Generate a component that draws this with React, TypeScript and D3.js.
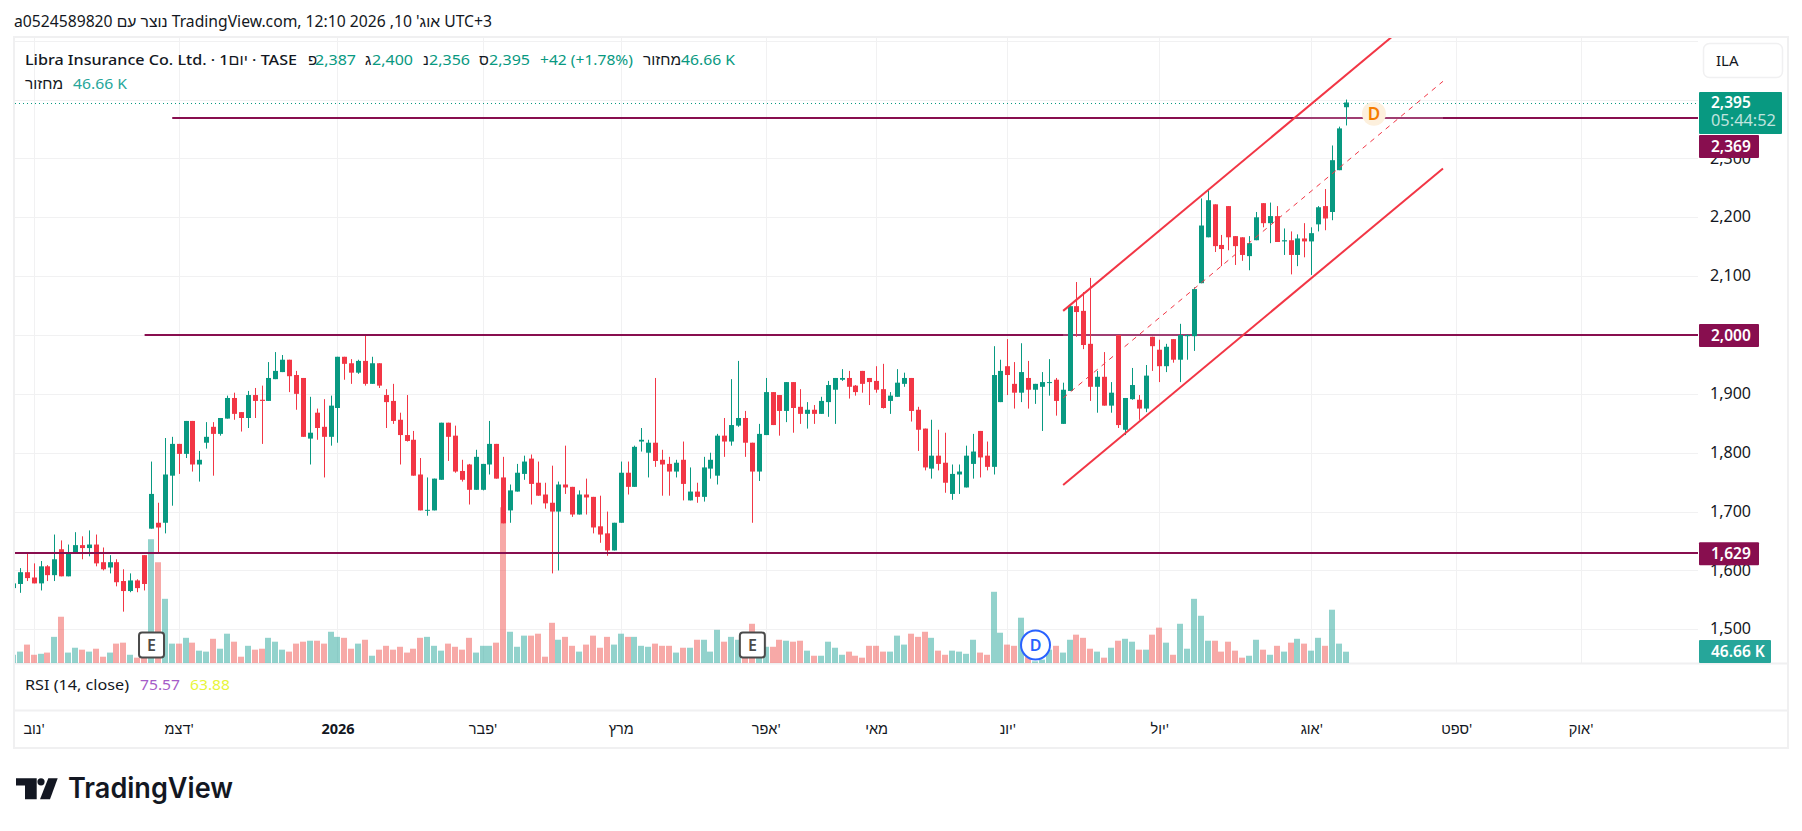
// Libra Insurance daily candles with volume, channel and horizontal levels
import React, { useEffect } from 'react';
import * as d3 from 'd3';

const opens = [1570,
  1577,1597,1588,1578,1607,1592,1636,1590,1629,1643,1638,1644,1614,1605,1614,1582,1565,1583,1626,
  1671,1681,1681,1761,1815,1798,1854,1780,1817,1844,
  1832,1858,1893,1869,1859,1898,1890,1888,1925,1937,
  1958,1932,1927,1824,1868,1844,1827,1876,1963,1952,
  1936,1956,1917,1952,1898,1888,1856,1830,1822,1763,
  1702,1702,1754,1851,1829,1769,1780,1737,1737,1780,
  1815,1758,1702,1734,1764,1790,1749,1729,1715,1700,
  1746,1742,1695,1729,1725,1675,1663,1634,1681,1766,
  1742,1819,1800,1817,1788,1781,1768,1788,1719,1734,
  1725,1773,1761,1829,1819,1846,1859,1817,1768,1830,
  1903,1898,1871,1920,1878,1866,1873,1866,1886,1907,
  1924,1927,1914,1939,1927,1922,1908,1888,1895,1917,
  1927,1873,1841,1773,1795,1783,1730,1763,1741,1781,
  1837,1795,1776,1886,1947,1917,1902,1927,1907,1912,
  1919,1924,1849,1905,2049,2041,1985,1912,1929,1880,
  2000,1839,1891,1890,1875,1997,1975,1947,1993,1958,
  1998,1998,2088,2166,2222,2153,2219,2168,2166,2134,
  2161,2224,2190,2202,2159,2161,2136,2164,2159,2188,
  2219,2209,2280,2387];

const closes = [1578,
  1597,1587,1578,1607,1592,1619,1590,1631,1643,1638,1644,1612,1602,1614,1580,1565,1583,1570,1577,
  1730,1673,1763,1815,1798,1854,1780,1788,1827,1832,
  1859,1893,1866,1859,1898,1888,1888,1927,1939,1958,
  1930,1900,1827,1834,1842,1827,1880,1963,1951,1936,
  1956,1917,1952,1914,1886,1854,1830,1820,1761,1702,
  1703,1756,1851,1827,1768,1754,1737,1793,1781,1815,
  1756,1680,1736,1766,1785,1747,1727,1714,1700,1746,
  1741,1695,1729,1724,1673,1661,1634,1681,1766,1742,
  1810,1822,1817,1786,1780,1768,1783,1747,1734,1725,
  1775,1788,1829,1819,1847,1859,1817,1768,1832,1903,
  1847,1871,1920,1876,1866,1873,1866,1888,1915,1927,
  1927,1912,1903,1917,1920,1907,1876,1897,1919,1927,
  1871,1839,1775,1795,1781,1749,1764,1768,1795,1802,
  1792,1776,1932,1939,1932,1902,1937,1907,1917,1920,
  1920,1888,1907,2049,2039,1983,1912,1929,1880,1902,
  1847,1893,1915,1875,1931,1981,1947,1980,1958,2000,
  2000,2078,2186,2229,2151,2146,2166,2151,2136,2156,
  2200,2190,2202,2158,2161,2136,2164,2159,2173,2217,
  2198,2297,2351,2395];

const highs = [1578,
  1604,1629,1612,1616,1609,1661,1651,1644,1665,1658,1668,1661,1639,1626,1619,1602,1595,1585,1626,
  1785,1715,1825,1827,1815,1854,1854,1803,1852,1852,
  1859,1897,1902,1869,1905,1910,1914,1954,1971,1966,
  1958,1939,1927,1895,1875,1891,1897,1963,1963,1959,
  1958,2000,1963,1952,1908,1917,1868,1898,1837,1791,
  1758,1756,1851,1851,1846,1788,1781,1805,1781,1854,
  1815,1793,1746,1781,1795,1797,1785,1749,1778,1751,
  1812,1742,1736,1756,1725,1727,1700,1681,1785,1785,
  1812,1842,1822,1927,1805,1793,1788,1819,1775,1749,
  1793,1800,1832,1859,1925,1956,1871,1817,1849,1927,
  1903,1898,1920,1920,1908,1886,1881,1895,1922,1927,
  1942,1939,1915,1939,1927,1947,1951,1903,1942,1936,
  1927,1878,1841,1856,1839,1834,1780,1780,1812,1832,
  1837,1819,1981,1958,1993,1954,1986,1956,1917,1937,
  1959,1927,1919,2049,2090,2073,2097,1939,1971,1920,
  2000,1893,1944,1898,1949,1997,1992,1985,1993,2019,
  2001,2081,2232,2246,2222,2170,2219,2168,2166,2168,
  2209,2224,2225,2219,2181,2176,2171,2190,2183,2219,
  2248,2322,2354,2400];

const lows = [1570,
  1562,1582,1578,1566,1582,1582,1590,1590,1629,1619,1624,1607,1600,1595,1573,1530,1563,1563,1566,
  1671,1630,1663,1710,1764,1791,1768,1751,1807,1761,
  1829,1858,1856,1836,1842,1859,1815,1888,1925,1937,
  1903,1873,1827,1780,1822,1758,1812,1817,1924,1917,
  1934,1914,1917,1910,1842,1849,1780,1819,1761,1702,
  1693,1702,1754,1786,1766,1751,1712,1737,1736,1763,
  1756,1680,1681,1734,1754,1712,1727,1705,1595,1600,
  1730,1691,1695,1695,1663,1647,1625,1634,1681,1729,
  1742,1802,1758,1776,1727,1727,1758,1719,1719,1715,
  1717,1756,1746,1793,1812,1844,1793,1681,1752,1830,
  1847,1829,1852,1834,1849,1841,1849,1866,1861,1849,
  1922,1892,1897,1902,1881,1902,1875,1866,1895,1912,
  1853,1803,1770,1756,1770,1732,1720,1730,1741,1756,
  1758,1770,1763,1886,1898,1875,1886,1875,1883,1837,
  1897,1863,1849,1905,1997,1976,1888,1868,1880,1868,
  1842,1830,1890,1856,1869,1939,1920,1937,1953,1920,
  1958,1973,2088,2166,2141,2117,2144,2119,2126,2110,
  2161,2183,2156,2158,2136,2103,2117,2132,2102,2176,
  2178,2195,2280,2356];

// volume in thousands
const volumes = [
  34,47,76,34,38,43,108,191,43,63,
  55,47,59,26,43,80,84,34,22,25,
  511,416,265,80,80,104,84,51,47,100,
  59,121,88,26,71,55,59,104,88,55,
  47,80,88,92,92,80,129,108,104,59,
  80,96,30,55,71,55,67,43,59,104,
  108,71,51,80,67,55,104,43,71,71,
  84,643,129,67,113,113,121,26,166,96,
  108,71,47,76,113,63,108,76,121,108,
  108,71,67,80,71,71,43,63,63,96,
  96,47,137,88,108,96,38,162,34,67,
  67,96,92,88,92,51,30,30,88,63,
  34,47,30,22,71,71,47,47,113,76,
  121,108,129,104,51,34,51,47,38,96,
  43,34,294,125,76,71,187,27,7,14,
  55,71,43,96,117,104,59,47,22,63,
  92,100,88,55,55,117,146,84,34,162,
  59,265,195,92,92,47,88,51,22,30,
  96,55,34,71,47,84,100,80,51,104,
  71,220,80,46.66];

const priceTicks = [1500, 1600, 1700, 1800, 1900, 2000, 2100, 2200, 2300, 2400, 2500];
const priceLabels = [1500, 1600, 1700, 1800, 1900, 2100, 2200, 2300];
const levels = [
  { price: 2369, from: 23 },
  { price: 2000, from: 19 },
  { price: 1629, from: 0 },
];
const monthIndex = [3, 24, 47, 68, 88, 109, 125, 144, 166, 188, 209, 227];
const monthLabels = ["נוב'", "דצמ'", '2026', "פבר'", 'מרץ', "אפר'", 'מאי', "יונ'", "יול'", "אוג'", "ספט'", "אוק'"];
const channelIndex = [152, 207];
const channelUpper = [2041, 2579];
const channelLower = [1745, 2283];
const earningsIndex = [20, 107];
const dividendIndex = 148;
const nextDividendIndex = 197;
const nextDividendPrice = 2376;

const green = '#089981';
const red = '#F23645';
const purple = '#880E4F';
const teal = '#26a69a';
const ink = '#131722';
const gridColor = '#f1f1f2';
const font = "'Noto Sans', sans-serif";

const legendItems = [
  { x: 25, text: 'Libra Insurance Co. Ltd. · 1יום · TASE', color: ink, w: 272 },
  { x: 308, text: 'פ', color: ink, w: 0 },
  { x: 315, text: '2,387', color: green, w: 41 },
  { x: 365, text: 'ג', color: ink, w: 0 },
  { x: 372, text: '2,400', color: green, w: 41 },
  { x: 423, text: 'נ', color: ink, w: 0 },
  { x: 429, text: '2,356', color: green, w: 41 },
  { x: 479, text: 'ס', color: ink, w: 0 },
  { x: 489, text: '2,395', color: green, w: 41 },
  { x: 540, text: '+42 (+1.78%)', color: green, w: 93 },
  { x: 643, text: 'מחזור', color: ink, w: 38 },
  { x: 681, text: '46.66 K', color: green, w: 54 },
];

const ChartApp = () => {
  const svgRef = React.useRef<SVGSVGElement>(null);

  useEffect(() => {
    if (!svgRef.current) return;
    const svg = d3.select(svgRef.current);
    svg.selectAll('*').remove();

    const pane = { left: 15, right: 1698, top: 38, bottom: 663 };

    const x = d3.scaleLinear().domain([1, 193]).range([20.3, 1346.3]);
    const y = d3.scaleLinear().domain([2000, 1500]).range([335, 629.3]);
    const yVol = d3.scaleLinear().domain([0, 46.66]).range([663, 651.7]);
    const px = (i: number) => Math.floor(x(i));

    svg.append('clipPath').attr('id', 'pane')
      .append('rect')
      .attr('x', pane.left).attr('y', pane.top)
      .attr('width', pane.right - pane.left).attr('height', pane.bottom - pane.top);

    // title line
    svg.append('text').attr('x', 14).attr('y', 27)
      .attr('font-family', font).attr('font-size', 15.5).attr('fill', ink)
      .attr('textLength', 478).attr('lengthAdjust', 'spacingAndGlyphs')
      .text("a0524589820 נוצר עם TradingView.com, 12:10 2026 ,10 אוג'\u200F UTC+3");

    // grid
    const grid = svg.append('g').attr('stroke', gridColor).attr('stroke-width', 1);
    priceTicks.forEach(p => {
      const yy = Math.round(y(p)) + 0.5;
      grid.append('line').attr('x1', pane.left).attr('x2', pane.right).attr('y1', yy).attr('y2', yy);
    });
    monthIndex.forEach(i => {
      const xx = px(i) + 0.5;
      grid.append('line').attr('x1', xx).attr('x2', xx).attr('y1', pane.top).attr('y2', pane.bottom);
    });

    // frame and pane separators
    const frame = svg.append('g').attr('stroke', '#f0f0f1').attr('stroke-width', 2).attr('fill', 'none');
    frame.append('rect').attr('x', 14).attr('y', 37).attr('width', 1774).attr('height', 711);
    frame.append('line').attr('x1', 14).attr('x2', 1788).attr('y1', 663.5).attr('y2', 663.5);
    frame.append('line').attr('x1', 14).attr('x2', 1788).attr('y1', 710.5).attr('y2', 710.5);

    const plot = svg.append('g').attr('clip-path', 'url(#pane)');
    const indices = d3.range(opens.length);

    // volume bars
    plot.append('g').selectAll('rect').data(indices).enter().append('rect')
      .attr('x', i => px(i) - 3)
      .attr('width', 6)
      .attr('y', i => yVol(volumes[i]))
      .attr('height', i => yVol(0) - yVol(volumes[i]))
      .attr('fill', i => (closes[i] >= opens[i] ? teal : '#EF5350'))
      .attr('fill-opacity', 0.5);

    const drawCandles = (g: any, idx: number[]) => {
      g.selectAll('.wick').data(idx).enter().append('rect')
        .attr('class', 'wick')
        .attr('x', (i: number) => px(i))
        .attr('width', 1)
        .attr('y', (i: number) => y(highs[i]))
        .attr('height', (i: number) => y(lows[i]) - y(highs[i]))
        .attr('fill', (i: number) => (closes[i] >= opens[i] ? green : red));
      g.selectAll('.body').data(idx).enter().append('rect')
        .attr('class', 'body')
        .attr('x', (i: number) => px(i) - 2)
        .attr('width', 5)
        .attr('y', (i: number) => y(Math.max(opens[i], closes[i])))
        .attr('height', (i: number) => Math.max(1, Math.abs(y(opens[i]) - y(closes[i]))))
        .attr('fill', (i: number) => (closes[i] >= opens[i] ? green : red));
    };

    const firstInChannel = channelIndex[0];
    drawCandles(plot.append('g'), indices.filter(i => i < firstInChannel));

    // last price dotted line
    plot.append('line')
      .attr('x1', pane.left).attr('x2', pane.right)
      .attr('y1', Math.round(y(closes[closes.length - 1])) + 0.5)
      .attr('y2', Math.round(y(closes[closes.length - 1])) + 0.5)
      .attr('stroke', green).attr('stroke-dasharray', '1 3');

    // horizontal levels
    levels.forEach(l => {
      const yy = Math.round(y(l.price));
      plot.append('line')
        .attr('x1', l.from === 0 ? pane.left : x(l.from))
        .attr('x2', pane.right).attr('y1', yy).attr('y2', yy)
        .attr('stroke', purple).attr('stroke-width', 2);
    });

    // channel fill goes over the levels, candles stay on top of it
    const channelArea = d3.area<number>()
      .x(i => x(channelIndex[i]))
      .y0(i => y(channelLower[i]))
      .y1(i => y(channelUpper[i]));
    plot.append('path').datum([0, 1]).attr('d', channelArea)
      .attr('fill', '#ffffff').attr('fill-opacity', 0.2);

    drawCandles(plot.append('g'), indices.filter(i => i >= firstInChannel));

    const lineOf = d3.line<number[]>().x(d => x(d[0])).y(d => y(d[1]));
    const channelLine = (prices: number[]) => [
      [channelIndex[0], prices[0]],
      [channelIndex[1], prices[1]],
    ];
    [channelUpper, channelLower].forEach(p => {
      plot.append('path').attr('d', lineOf(channelLine(p)))
        .attr('fill', 'none').attr('stroke', red).attr('stroke-width', 2);
    });
    plot.append('path')
      .attr('d', lineOf(channelLine([(channelUpper[0] + channelLower[0]) / 2, (channelUpper[1] + channelLower[1]) / 2])))
      .attr('fill', 'none').attr('stroke', red).attr('stroke-width', 1).attr('stroke-dasharray', '5 5');

    // earnings and dividend marks
    earningsIndex.forEach(i => {
      const g = svg.append('g').attr('transform', `translate(${x(i)},645)`);
      g.append('rect').attr('x', -12.5).attr('y', -12.5).attr('width', 25).attr('height', 25).attr('rx', 3)
        .attr('fill', '#fff').attr('stroke', '#4a4a4a').attr('stroke-width', 2);
      g.append('text').attr('text-anchor', 'middle').attr('dy', '0.36em')
        .attr('font-family', font).attr('font-size', 16).attr('font-weight', 600).attr('fill', '#4a4a4a').text('E');
    });
    const dMark = svg.append('g').attr('transform', `translate(${x(dividendIndex)},645)`);
    dMark.append('circle').attr('r', 14.5).attr('fill', '#fff').attr('stroke', '#2962FF').attr('stroke-width', 2);
    dMark.append('text').attr('text-anchor', 'middle').attr('dy', '0.36em')
      .attr('font-family', font).attr('font-size', 16).attr('font-weight', 600).attr('fill', '#2962FF').text('D');
    const nextMark = svg.append('g').attr('transform', `translate(${x(nextDividendIndex)},${y(nextDividendPrice)})`);
    nextMark.append('circle').attr('r', 12).attr('fill', '#fdf0dd');
    nextMark.append('text').attr('text-anchor', 'middle').attr('dy', '0.36em')
      .attr('font-family', font).attr('font-size', 17).attr('font-weight', 600).attr('fill', '#F57C00').text('D');

    // legend
    legendItems.forEach(d => {
      const t = svg.append('text').attr('x', d.x).attr('y', 64.5)
        .attr('font-family', font).attr('font-size', 15).attr('font-weight', d.x === 25 ? 500 : 400).attr('fill', d.color);
      if (d.w) t.attr('textLength', d.w).attr('lengthAdjust', 'spacingAndGlyphs');
      t.text(d.text);
    });
    svg.append('text').attr('x', 25).attr('y', 89).attr('font-family', font).attr('font-size', 15).attr('fill', ink)
      .attr('textLength', 38).attr('lengthAdjust', 'spacingAndGlyphs').text('מחזור');
    svg.append('text').attr('x', 73).attr('y', 89).attr('font-family', font).attr('font-size', 15).attr('fill', teal)
      .attr('textLength', 54).attr('lengthAdjust', 'spacingAndGlyphs').text('46.66 K');

    // RSI title
    svg.append('text').attr('x', 25).attr('y', 690).attr('font-family', font).attr('font-size', 15).attr('fill', ink)
      .attr('textLength', 104).attr('lengthAdjust', 'spacingAndGlyphs').text('RSI (14, close)');
    svg.append('text').attr('x', 140).attr('y', 690).attr('font-family', font).attr('font-size', 15).attr('fill', '#a55cc8')
      .attr('textLength', 40).attr('lengthAdjust', 'spacingAndGlyphs').text('75.57');
    svg.append('text').attr('x', 190).attr('y', 690).attr('font-family', font).attr('font-size', 15).attr('fill', '#e8f53a')
      .attr('textLength', 40).attr('lengthAdjust', 'spacingAndGlyphs').text('63.88');

    // time axis
    svg.append('g').selectAll('text').data(monthIndex).enter().append('text')
      .attr('x', i => x(i)).attr('y', 734)
      .attr('text-anchor', 'middle')
      .attr('font-family', font).attr('font-size', 14.5).attr('fill', ink)
      .attr('font-weight', (_, k) => (monthLabels[k] === '2026' ? 700 : 400))
      .text((_, k) => monthLabels[k]);

    // price axis
    const fmt = d3.format(',');
    svg.append('g').selectAll('text').data(priceLabels).enter().append('text')
      .attr('x', 1710).attr('y', p => y(p) - 0.5).attr('dy', '0.36em')
      .attr('font-family', font).attr('font-size', 15.5).attr('fill', ink)
      .attr('textLength', 41).attr('lengthAdjust', 'spacingAndGlyphs')
      .text(p => fmt(p));

    const ilaBox = svg.append('g');
    ilaBox.append('rect').attr('x', 1703.5).attr('y', 43.5).attr('width', 79).attr('height', 34).attr('rx', 6)
      .attr('fill', '#fff').attr('stroke', '#f0f0f1').attr('stroke-width', 1.5);
    ilaBox.append('text').attr('x', 1716).attr('y', 66).attr('font-family', font).attr('font-size', 15).attr('fill', ink).text('ILA');

    const tag = (top: number, h: number, w: number, fill: string, text: string) => {
      svg.append('rect').attr('x', 1699).attr('y', top).attr('width', w).attr('height', h).attr('rx', 1).attr('fill', fill);
      svg.append('text').attr('x', 1711).attr('y', top + h / 2).attr('dy', '0.36em')
        .attr('font-family', font).attr('font-size', 15.5).attr('font-weight', 600).attr('fill', '#fff').text(text);
    };
    tag(y(2000) - 11, 23, 60, purple, fmt(2000));
    tag(y(1629) - 11, 23, 60, purple, fmt(1629));
    tag(135, 23, 60, purple, fmt(2369));
    tag(640, 23, 72, teal, '46.66 K');

    svg.append('rect').attr('x', 1699).attr('y', 92).attr('width', 83).attr('height', 42).attr('rx', 1).attr('fill', green);
    svg.append('text').attr('x', 1711).attr('y', 107.5).attr('font-family', font).attr('font-size', 15.5).attr('font-weight', 600).attr('fill', '#fff').text(fmt(2395));
    svg.append('text').attr('x', 1711).attr('y', 126).attr('font-family', font).attr('font-size', 15.5).attr('fill', '#fff').attr('fill-opacity', 0.75)
      .attr('textLength', 65).attr('lengthAdjust', 'spacingAndGlyphs').text('05:44:52');

    // TradingView logo
    const logo = svg.append('g').attr('transform', 'translate(16,778.3)').attr('fill', ink);
    logo.append('path').attr('d', 'M0 0H20.7V21H9V7.3H0Z');
    logo.append('circle').attr('cx', 25).attr('cy', 3.5).attr('r', 3.6);
    logo.append('path').attr('d', 'M32.3 0H41.7L34 21H24Z');
    svg.append('text').attr('x', 68).attr('y', 798).attr('font-family', 'Inter, sans-serif').attr('font-size', 28).attr('font-weight', 600)
      .attr('fill', ink).attr('textLength', 165).attr('lengthAdjust', 'spacingAndGlyphs').text('TradingView');
  }, []);

  return <svg ref={svgRef} width={1802} height={831} style={{ position: 'absolute', left: 0, top: 0, background: '#fff' }} />;
};

export default ChartApp;
